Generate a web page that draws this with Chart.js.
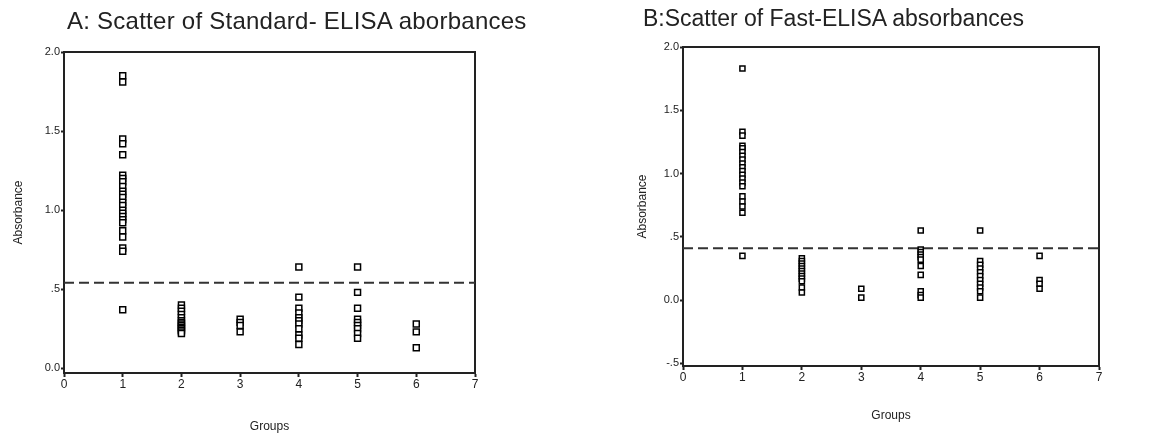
<!DOCTYPE html>
<html>
<head>
<meta charset="utf-8">
<script src="https://cdn.jsdelivr.net/npm/chart.js@4.4.1/dist/chart.umd.min.js"></script>
<style>
  body { margin: 0; background: #fff; }
  .panel { position: absolute; top: 0; height: 436px; }
  .title {
    position: absolute; white-space: nowrap; color: #222;
    font-family: 'Liberation Sans', Arial, sans-serif; line-height: 24px;
  }
</style>
</head>
<body>
<div class="panel" style="left:0;width:578px"><canvas id="chartA"></canvas></div>
<div class="panel" style="left:578px;width:577px"><canvas id="chartB"></canvas></div>
<div class="title" style="left:67px;top:9px;font-size:24px;letter-spacing:0.25px">A: Scatter of Standard- ELISA aborbances</div>
<div class="title" style="left:643px;top:6px;font-size:23px">B:Scatter of Fast-ELISA absorbances</div>
<script>
// DATA
const groups = [1, 2, 3, 4, 5, 6];
const xTicks = [0, 1, 2, 3, 4, 5, 6, 7];

// A: standard ELISA absorbances per group
const standardA = [
  [1.85, 1.81, 1.45, 1.42, 1.35, 1.22, 1.20, 1.18, 1.15, 1.12, 1.10, 1.08, 1.05, 1.03, 1.00, 0.98, 0.96, 0.94, 0.92, 0.87, 0.83, 0.76, 0.74, 0.37],
  [0.40, 0.38, 0.36, 0.34, 0.32, 0.30, 0.29, 0.28, 0.27, 0.26, 0.25, 0.24, 0.23, 0.22],
  [0.31, 0.29, 0.27, 0.23],
  [0.64, 0.45, 0.38, 0.35, 0.32, 0.30, 0.28, 0.25, 0.21, 0.19, 0.15],
  [0.64, 0.48, 0.38, 0.31, 0.29, 0.27, 0.25, 0.22, 0.19],
  [0.28, 0.23, 0.13]
];
const cutoffA = 0.54;
const yTicksA = [0, 0.5, 1.0, 1.5, 2.0];

// B: fast ELISA absorbances per group
const fastB = [
  [1.83, 1.33, 1.30, 1.22, 1.20, 1.17, 1.14, 1.11, 1.08, 1.05, 1.02, 0.99, 0.96, 0.93, 0.90, 0.82, 0.78, 0.74, 0.69, 0.35],
  [0.33, 0.31, 0.29, 0.27, 0.25, 0.23, 0.21, 0.19, 0.17, 0.15, 0.10, 0.06],
  [0.09, 0.02],
  [0.55, 0.40, 0.38, 0.36, 0.34, 0.32, 0.27, 0.20, 0.07, 0.04, 0.02],
  [0.55, 0.31, 0.28, 0.25, 0.22, 0.19, 0.16, 0.13, 0.10, 0.07, 0.02],
  [0.35, 0.16, 0.13, 0.09]
];
const cutoffB = 0.41;
const yTicksB = [-0.5, 0, 0.5, 1.0, 1.5, 2.0];

// HELPERS
const FONT = "'Liberation Sans', Arial, sans-serif";
const INK = "#222";

// SPSS style: "0.0", ".5", "-.5", "1.0"
function fmtTick(v) {
  if (v === 0) return "0.0";
  return Math.abs(v) < 1 ? String(v).replace("0.", ".") : v.toFixed(1);
}

function toPoints(values) {
  const pts = [];
  values.forEach((list, i) => {
    list.forEach(v => pts.push({ x: groups[i], y: v }));
  });
  return pts;
}

function makeChart(id, o) {
  return new Chart(document.getElementById(id), {
    type: "scatter",
    data: {
      datasets: [
        {
          data: toPoints(o.values),
          pointStyle: "rect",
          pointRadius: o.radius,
          backgroundColor: "#fff",
          borderColor: "#000",
          borderWidth: 1.5
        },
        {
          type: "line",
          data: [{ x: xTicks[0], y: o.cutoff }, { x: xTicks[xTicks.length - 1], y: o.cutoff }],
          borderColor: "#333",
          borderWidth: 2,
          borderDash: [10, 5],
          pointRadius: 0
        }
      ]
    },
    options: {
      responsive: true,
      maintainAspectRatio: false,
      animation: false,
      layout: { padding: o.padding },
      plugins: {
        legend: { display: false },
        tooltip: { enabled: false }
      },
      scales: {
        x: {
          type: "linear",
          min: 0,
          max: 7,
          afterBuildTicks: s => { s.ticks = xTicks.map(v => ({ value: v })); },
          afterFit: s => { s.height = o.xHeight; },
          grid: { display: true, drawOnChartArea: false, tickLength: 4, color: INK, tickWidth: 2 },
          border: { display: true, color: INK, width: 2 },
          ticks: { color: INK, font: { family: FONT, size: 12 }, padding: 0 },
          title: { display: true, text: "Groups", color: INK, font: { family: FONT, size: 12 }, padding: { top: 4, bottom: 2 } }
        },
        y: {
          min: o.yMin,
          max: 2.0,
          afterBuildTicks: s => { s.ticks = o.yTicks.map(v => ({ value: v })); },
          afterFit: s => { s.width = o.yWidth; },
          grid: { display: true, drawOnChartArea: false, tickLength: 3, color: INK, tickWidth: 2 },
          border: { display: true, color: INK, width: 2 },
          ticks: { color: INK, font: { family: FONT, size: 11 }, padding: 1, callback: v => fmtTick(v) },
          title: { display: true, text: "Absorbance", color: INK, font: { family: FONT, size: 12 }, padding: { top: 4, bottom: 4 } }
        },
        x2: {
          type: "linear",
          position: "top",
          min: 0,
          max: 7,
          afterFit: s => { s.height = 0; },
          grid: { display: false },
          border: { display: true, color: INK, width: 2 },
          ticks: { display: false }
        },
        y2: {
          position: "right",
          min: o.yMin,
          max: 2.0,
          afterFit: s => { s.width = o.rightWidth; },
          grid: { display: false },
          border: { display: true, color: INK, width: 2 },
          ticks: { display: false }
        }
      }
    }
  });
}

// CHARTS
makeChart("chartA", {
  values: standardA,
  cutoff: cutoffA,
  yTicks: yTicksA,
  yMin: -0.03,
  radius: 4.2,
  padding: { left: 7, right: 0, top: 52, bottom: 0 },
  xHeight: 63,
  yWidth: 57,
  rightWidth: 103
});

makeChart("chartB", {
  values: fastB,
  cutoff: cutoffB,
  yTicks: yTicksB,
  yMin: -0.52,
  radius: 3.6,
  padding: { left: 53, right: 0, top: 47, bottom: 11 },
  xHeight: 59,
  yWidth: 52,
  rightWidth: 56
});
</script>
</body>
</html>
